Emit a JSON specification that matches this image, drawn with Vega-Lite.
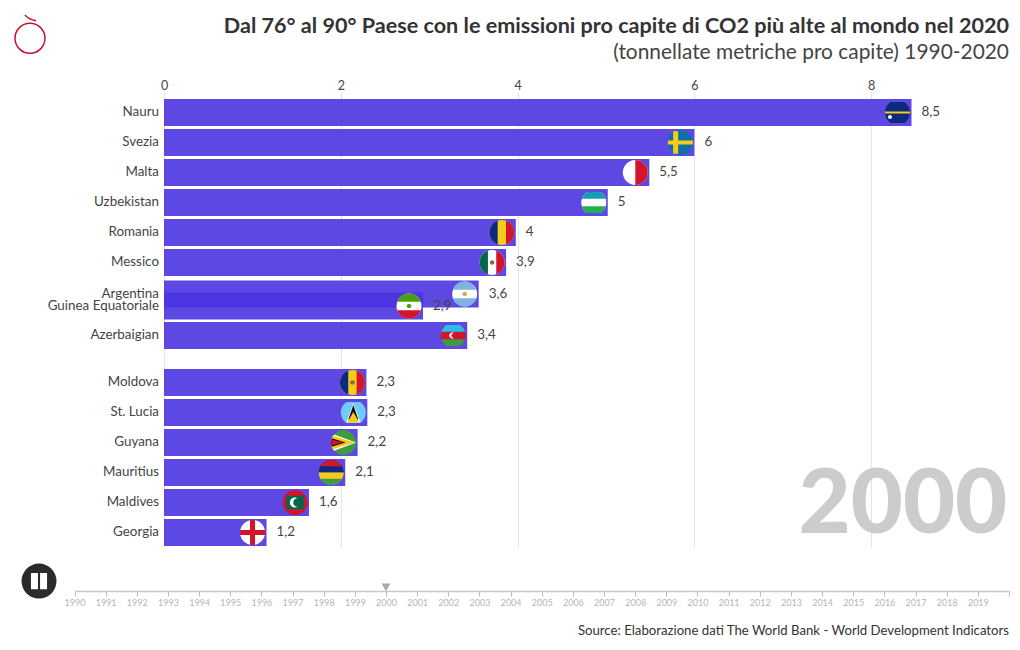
{
"$schema":"https://vega.github.io/schema/vega-lite/v6.json",
"width":845,"height":455,
"autosize":{"type":"none"},
"padding":{"left":164,"top":92,"right":11,"bottom":103},
"background":"white",
"config":{"view":{"stroke":null},"font":"Lato"},
"title":{"text":"Dal 76° al 90° Paese con le emissioni pro capite di CO2 più alte al mondo nel 2020","subtitle":"(tonnellate metriche pro capite) 1990-2020","anchor":"end","frame":"group","offset":-51,"font":"Lato","fontSize":21.6,"fontWeight":"bold","color":"#333333","subtitleFont":"Lato","subtitleFontSize":20.9,"subtitleColor":"#444444","subtitlePadding":4},
"datasets":{
"bars":[
{"country":"Nauru","value":8.456,"rank":1,"label":"8,5"},
{"country":"Svezia","value":6.0,"rank":2,"label":"6"},
{"country":"Malta","value":5.49,"rank":3,"label":"5,5"},
{"country":"Uzbekistan","value":5.02,"rank":4,"label":"5"},
{"country":"Romania","value":3.98,"rank":5,"label":"4"},
{"country":"Messico","value":3.87,"rank":6,"label":"3,9"},
{"country":"Argentina","value":3.56,"rank":7.05,"label":"3,6"},
{"country":"Guinea Equatoriale","value":2.93,"rank":7.45,"label":"2,9"},
{"country":"Azerbaigian","value":3.43,"rank":8.43,"label":"3,4"},
{"country":"Moldova","value":2.29,"rank":10,"label":"2,3"},
{"country":"St. Lucia","value":2.30,"rank":11,"label":"2,3"},
{"country":"Guyana","value":2.19,"rank":12,"label":"2,2"},
{"country":"Mauritius","value":2.05,"rank":13,"label":"2,1"},
{"country":"Maldives","value":1.64,"rank":14,"label":"1,6"},
{"country":"Georgia","value":1.16,"rank":15,"label":"1,2"}
],
"flags":[
{"country":"Nauru","part":"flat","tint":"navy"},{"country":"Nauru","part":"nband","tint":"gold"},{"country":"Nauru","part":"ndot","tint":"white"},
{"country":"Svezia","part":"disc","tint":"swedeblue"},{"country":"Svezia","part":"sweV","tint":"gold"},{"country":"Svezia","part":"sweH","tint":"gold"},
{"country":"Malta","part":"disc","tint":"white"},{"country":"Malta","part":"halfR","tint":"red"},
{"country":"Uzbekistan","part":"flat","tint":"white"},{"country":"Uzbekistan","part":"flatT","tint":"teal"},{"country":"Uzbekistan","part":"flatB","tint":"lime"},
{"country":"Romania","part":"disc","tint":"gold"},{"country":"Romania","part":"capL","tint":"navy"},{"country":"Romania","part":"capR","tint":"red"},
{"country":"Messico","part":"disc","tint":"white"},{"country":"Messico","part":"capL","tint":"green"},{"country":"Messico","part":"capR","tint":"red"},{"country":"Messico","part":"dot","tint":"brown"},
{"country":"Argentina","part":"disc","tint":"white"},{"country":"Argentina","part":"capT","tint":"sky"},{"country":"Argentina","part":"capB","tint":"sky"},{"country":"Argentina","part":"dot","tint":"orange"},
{"country":"Guinea Equatoriale","part":"disc","tint":"white"},{"country":"Guinea Equatoriale","part":"capT","tint":"leaf"},{"country":"Guinea Equatoriale","part":"capB","tint":"red"},{"country":"Guinea Equatoriale","part":"dot","tint":"leaf"},
{"country":"Azerbaigian","part":"flat","tint":"red"},{"country":"Azerbaigian","part":"flatT","tint":"cyan"},{"country":"Azerbaigian","part":"flatB","tint":"green2"},{"country":"Azerbaigian","part":"azc","tint":"white"},
{"country":"Moldova","part":"disc","tint":"gold"},{"country":"Moldova","part":"capL","tint":"navy"},{"country":"Moldova","part":"capR","tint":"red"},{"country":"Moldova","part":"dot","tint":"brown"},
{"country":"St. Lucia","part":"flat","tint":"pale"},{"country":"St. Lucia","part":"lucW","tint":"white"},{"country":"St. Lucia","part":"lucB","tint":"black"},{"country":"St. Lucia","part":"lucY","tint":"gold"},
{"country":"Guyana","part":"disc","tint":"green2"},{"country":"Guyana","part":"guyW","tint":"white"},{"country":"Guyana","part":"guyG","tint":"gold"},{"country":"Guyana","part":"guyK","tint":"black"},{"country":"Guyana","part":"guyR","tint":"red"},
{"country":"Mauritius","part":"halfT","tint":"navy"},{"country":"Mauritius","part":"halfB","tint":"gold"},{"country":"Mauritius","part":"cap4T","tint":"red"},{"country":"Mauritius","part":"cap4B","tint":"green2"},
{"country":"Maldives","part":"disc","tint":"red"},{"country":"Maldives","part":"mald","tint":"green"},{"country":"Maldives","part":"crescent","tint":"white"},
{"country":"Georgia","part":"disc","tint":"white"},{"country":"Georgia","part":"geoV","tint":"red"},{"country":"Georgia","part":"geoH","tint":"red"}
]
},
"resolve":{"scale":{"x":"independent"}},
"layer":[
{"layer":[
{"data":{"name":"bars"},
 "mark":{"type":"bar","orient":"horizontal","size":27,"color":"#4b34e0","opacity":0.9},
 "encoding":{
  "x":{"field":"value","type":"quantitative","scale":{"domain":[0,9.559],"nice":false,"zero":true},
   "axis":{"orient":"top","title":null,"values":[0,2,4,6,8],"format":"d","grid":true,"gridColor":"#e4e4e4","ticks":false,"domain":false,"labelFlush":false,"labelPadding":0,"labelFont":"Lato","labelFontSize":12.5,"labelColor":"#444444"}},
  "y":{"field":"rank","type":"quantitative","scale":{"domain":[15.483,0.3167],"nice":false,"zero":false,"padding":0},"axis":null},
  "x2":{"datum":0}
 }},
{"data":{"name":"flags"},
 "transform":[{"lookup":"country","from":{"data":{"name":"bars"},"key":"country","fields":["value","rank"]}}],
 "mark":{"type":"point","filled":true,"opacity":1,"strokeWidth":0,"size":2500,"xOffset":-14},
 "encoding":{
  "x":{"field":"value","type":"quantitative"},
  "y":{"field":"rank","type":"quantitative"},
  "shape":{"field":"part","type":"nominal","legend":null,"scale":{
   "domain":["disc","flat","capL","capR","capT","capB","flatT","flatB","halfR","halfT","halfB","cap4T","cap4B","dot","ndot","nband","sweV","sweH","geoV","geoH","mald","crescent","azc","lucW","lucB","lucY","guyW","guyG","guyK","guyR"],
   "range":[
    "M-.5,0A.5,.5 0 1 1 .5,0A.5,.5 0 1 1 -.5,0Z",
    "M-.271,-.42A.5,.5 0 0 0 -.271,.42L.271,.42A.5,.5 0 0 0 .271,-.42Z",
    "M-.1667,-.4714A.5,.5 0 0 0 -.1667,.4714Z",
    "M.1667,-.4714A.5,.5 0 0 1 .1667,.4714Z",
    "M-.4714,-.1667A.5,.5 0 0 1 .4714,-.1667Z",
    "M.4714,.1667A.5,.5 0 0 1 -.4714,.1667Z",
    "M-.477,-.15A.5,.5 0 0 1 -.271,-.42L.271,-.42A.5,.5 0 0 1 .477,-.15Z",
    "M.477,.15A.5,.5 0 0 1 .271,.42L-.271,.42A.5,.5 0 0 1 -.477,.15Z",
    "M0,-.5A.5,.5 0 0 1 0,.5Z",
    "M-.5,0A.5,.5 0 0 1 .5,0Z",
    "M.5,0A.5,.5 0 0 1 -.5,0Z",
    "M-.433,-.25A.5,.5 0 0 1 .433,-.25Z",
    "M.433,.25A.5,.5 0 0 1 -.433,.25Z",
    "M-.09,0A.09,.09 0 1 1 .09,0A.09,.09 0 1 1 -.09,0Z",
    "M-.38,.18A.08,.08 0 1 1 -.22,.18A.08,.08 0 1 1 -.38,.18Z",
    "M-.5,-.04L.5,-.04L.5,.04L-.5,.04Z",
    "M-.29,-.45L-.09,-.45L-.09,.45L-.29,.45Z",
    "M-.5,-.08L.5,-.08L.5,.08L-.5,.08Z",
    "M-.1,-.5L.1,-.5L.1,.5L-.1,.5Z",
    "M-.5,-.1L.5,-.1L.5,.1L-.5,.1Z",
    "M-.35,-.27L.35,-.27L.35,.27L-.35,.27Z",
    "M.1,-.17A.2,.2 0 1 0 .1,.17A.17,.17 0 1 1 .1,-.17Z",
    "M.03,-.1A.12,.12 0 1 0 .03,.1A.1,.1 0 1 1 .03,-.1Z",
    "M0,-.36L.28,.4L-.28,.4Z",
    "M0,-.3L.2,.28L-.2,.28Z",
    "M0,-.02L.24,.4L-.24,.4Z",
    "M-.38,-.325L.5,0L-.38,.325A.5,.5 0 0 1 -.38,-.325Z",
    "M-.42,-.27L.44,0L-.42,.27A.5,.5 0 0 1 -.42,-.27Z",
    "M-.47,-.17L.08,0L-.47,.17A.5,.5 0 0 1 -.47,-.17Z",
    "M-.47,-.11L0,0L-.47,.11Z"
   ]}},
  "color":{"field":"tint","type":"nominal","legend":null,"scale":{
   "domain":["navy","gold","white","swedeblue","red","teal","lime","green","brown","sky","orange","leaf","cyan","green2","pale","black"],
   "range":["#0b2a80","#f5cb1c","#ffffff","#126fa6","#d2142c","#1a9bb5","#20b04c","#006847","#8a6a3a","#7fb2e0","#dfa54a","#46a010","#2cbfe6","#3f9a44","#70cdf8","#111111"]}}
 }},
{"data":{"name":"bars"},
 "mark":{"type":"text","align":"right","baseline":"middle","dx":-5,"dy":-0.5,"font":"Lato","fontSize":13.4,"color":"#444444"},
 "encoding":{"x":{"datum":0},"y":{"field":"rank","type":"quantitative"},"text":{"field":"country"}}},
{"data":{"name":"bars"},
 "mark":{"type":"text","align":"left","baseline":"middle","dx":10,"dy":-0.5,"font":"Lato","fontSize":13.4,"color":"#444444"},
 "encoding":{"x":{"field":"value","type":"quantitative"},"y":{"field":"rank","type":"quantitative"},"text":{"field":"label"}}},
{"data":{"values":[{"year":"2000"}]},
 "mark":{"type":"text","align":"right","baseline":"alphabetic","font":"Lato","fontWeight":900,"fontSize":90,"color":"#cccccc"},
 "encoding":{"x":{"datum":9.54},"y":{"datum":15.01},"text":{"field":"year"}}},
{"data":{"values":[{"note":"Source: Elaborazione dati The World Bank - World Development Indicators"}]},
 "mark":{"type":"text","align":"right","baseline":"middle","font":"Lato","fontSize":13.2,"color":"#333333"},
 "encoding":{"x":{"datum":9.559},"y":{"datum":18.28},"text":{"field":"note"}}},
{"data":{"values":[{"item":"logo"}]},
 "mark":{"type":"point","filled":false,"opacity":1,"stroke":"#c4122f","strokeWidth":1.5,"size":3600,"shape":"M-.5,0A.5,.5 0 1 1 .5,0A.5,.5 0 1 1 -.5,0Z M-.17,-.78Q-.05,-.63 .2,-.58"},
 "encoding":{"x":{"datum":-1.516},"y":{"datum":-1.475}}},
{"data":{"values":[{"item":"pause"}]},
 "mark":{"type":"point","filled":true,"opacity":1,"strokeWidth":0,"color":"#2b2b2b","size":1225,"shape":"circle"},
 "encoding":{"x":{"datum":-1.414},"y":{"datum":16.62}}},
{"data":{"values":[{"item":"pause"}]},
 "mark":{"type":"point","filled":true,"opacity":1,"strokeWidth":0,"color":"#ffffff","size":4900,"shape":"M-.23,-.23L-.03,-.23L-.03,.23L-.23,.23Z M.03,-.23L.23,-.23L.23,.23L.03,.23Z"},
 "encoding":{"x":{"datum":-1.414},"y":{"datum":16.62}}}
]},
{"data":{"values":[{"year":2000}]},
 "mark":{"type":"point","filled":true,"opacity":1,"strokeWidth":0,"color":"#aaaaaa","size":80,"shape":"triangle-down"},
 "encoding":{
  "x":{"field":"year","type":"quantitative","scale":{"domain":[1990,2020],"range":[-89.5,845],"nice":false,"zero":false},
   "axis":{"orient":"bottom","offset":44,"title":null,"values":[1990,1991,1992,1993,1994,1995,1996,1997,1998,1999,2000,2001,2002,2003,2004,2005,2006,2007,2008,2009,2010,2011,2012,2013,2014,2015,2016,2017,2018,2019,2020],"format":"d","labelExpr":"datum.value==2020?'':datum.label","labelOverlap":false,"labelFlush":false,"labelFont":"Lato","labelFontSize":9,"labelColor":"#b5b5b5","labelPadding":2,"tickColor":"#bbbbbb","tickSize":5,"domainColor":"#c8c8c8","domainWidth":1.5,"grid":false}},
  "y":{"datum":16.83}
 }}
]
}
